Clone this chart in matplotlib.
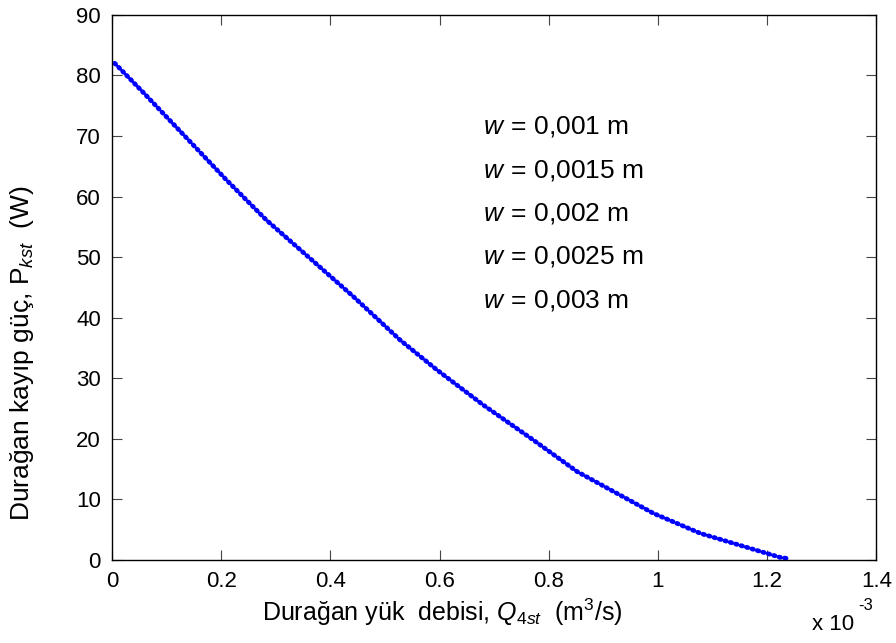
import matplotlib
matplotlib.use("Agg")
import matplotlib.pyplot as plt

plt.rcParams['font.family'] = ['Liberation Sans', 'DejaVu Sans']
plt.rcParams['mathtext.fontset'] = 'custom'
plt.rcParams['mathtext.rm'] = 'Liberation Sans'
plt.rcParams['mathtext.it'] = 'Liberation Sans:italic'

# Steady load flow rate (x 1e-3 m^3/s) and steady power loss (W)
q_flow = [0.005, 0.056, 0.131, 0.210, 0.283, 0.369, 0.442, 0.528, 0.595,
          0.680, 0.772, 0.852, 0.925, 0.992, 1.078, 1.169, 1.224, 1.242]
p_loss = [82.0, 77.3, 70.2, 62.7, 56.1, 49.3, 43.5, 36.3, 31.4,
          25.6, 19.8, 14.6, 11.0, 7.7, 4.4, 1.93, 0.44, 0.2]

w_labels = ["0,001", "0,0015", "0,002", "0,0025", "0,003"]
x_ticks = [0, 0.2, 0.4, 0.6, 0.8, 1.0, 1.2, 1.4]
x_ticklabels = ["0", "0.2", "0.4", "0.6", "0.8", "1", "1.2", "1.4"]
y_ticks = [0, 10, 20, 30, 40, 50, 60, 70, 80, 90]

fig = plt.figure(figsize=(8.96, 6.43), dpi=100)
ax = fig.add_axes([0.125, 0.129, 0.853, 0.848])

ax.plot(q_flow, p_loss, color='#0000ff', linewidth=3.4,
        linestyle=(0, (0.3, 0.9)), dash_capstyle='round')

ax.set_xlim(0, 1.4)
ax.set_ylim(0, 90)
ax.set_xticks(x_ticks)
ax.set_xticklabels(x_ticklabels)
ax.set_yticks(y_ticks)
ax.tick_params(direction='in', length=7, width=0.8, top=True, right=True,
               labelsize=16, pad=8, color='#444444')
for s in ax.spines.values():
    s.set_linewidth(1.0)

ax.set_xlabel(r"Durağan yük  debisi, $Q_{4st}$  (m$^3$/s)", fontsize=18)
ax.xaxis.set_label_coords((442 - 112) / 764, -(612 - 560) / 545, transform=ax.transAxes)
ax.xaxis.label.set_va('center')
ax.set_ylabel(r"Durağan kayıp güç, P$_{kst}$  (W)", fontsize=19)
ax.yaxis.set_label_coords(-(112 - 22) / 764, (560 - 353) / 545, transform=ax.transAxes)
ax.yaxis.label.set_va('center')

y0 = 71.5
for i, lab in enumerate(w_labels):
    ax.text(0.68, y0 - i * 7.15, r"$w\,=\,$" + lab + " m", fontsize=19,
            va='center', ha='left')

# exponent of the x axis scale
fig.text(812 / 896, 1 - 624 / 643, "x 10", fontsize=16, ha='left', va='center')
fig.text(858 / 896, 1 - 606 / 643, "-3", fontsize=12, ha='left', va='center')

fig.savefig("out.png", dpi=100)
